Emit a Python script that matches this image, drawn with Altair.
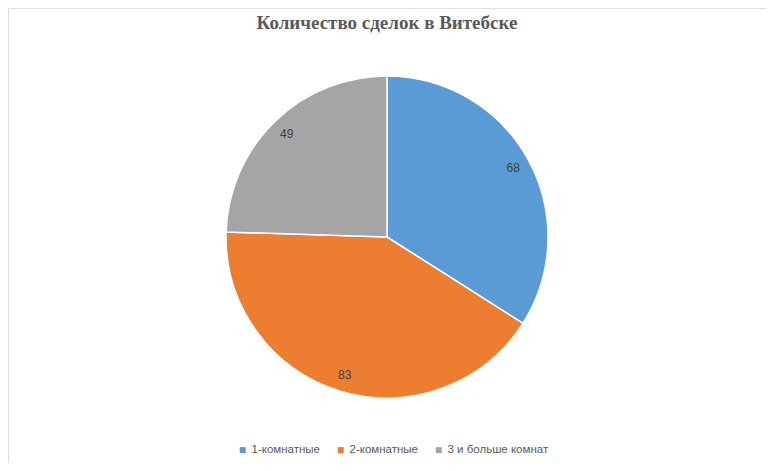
import altair as alt
import pandas as pd

categories = ["1-комнатные", "2-комнатные", "3 и больше комнат"]
values = [68, 83, 49]
colors = ["#5B9BD5", "#ED7D31", "#A5A5A5"]
title_text = "Количество сделок в Витебске"

df = pd.DataFrame({"cat": categories, "val": values, "ord": [0, 1, 2]})

W, H = 758, 455
CX, CY = 379, 229

base = alt.Chart(df).encode(
    theta=alt.Theta("val:Q", stack=True),
    order=alt.Order("ord:Q"),
)

pie = base.mark_arc(outerRadius=161, stroke="white", strokeWidth=1.5).encode(
    x=alt.value(CX),
    y=alt.value(CY),
    color=alt.Color(
        "cat:N",
        sort=categories,
        scale=alt.Scale(domain=categories, range=colors),
        legend=alt.Legend(
            title=None,
            orient="none",
            legendX=229,
            legendY=436,
            direction="horizontal",
            symbolType="square",
            symbolSize=36,
            symbolStrokeWidth=0,
            labelFont="Liberation Sans",
            labelFontSize=11.5,
            labelColor="#595959",
            columnPadding=15,
            labelOffset=3,
        ),
    ),
)

labels = base.mark_text(
    radius=144, font="Liberation Sans", fontSize=12
).encode(
    x=alt.value(CX),
    y=alt.value(CY),
    text=alt.Text("val:Q"),
    color=alt.value("#404040"),
)

chart = (
    alt.layer(pie, labels)
    .properties(
        width=W,
        height=H,
        padding=0,
        autosize=alt.AutoSizeParams(type="none"),
        title=alt.TitleParams(
            text=title_text,
            font="Liberation Serif",
            fontSize=19,
            fontWeight="bold",
            color="#595959",
            anchor="middle",
            baseline="alphabetic",
            dy=40,
            offset=0,
        ),
    )
    .configure_view(stroke="#000000", strokeWidth=1.5)
    .configure(background="white")
)

chart.save("out.html", embed_options={"renderer": "svg", "actions": False})
